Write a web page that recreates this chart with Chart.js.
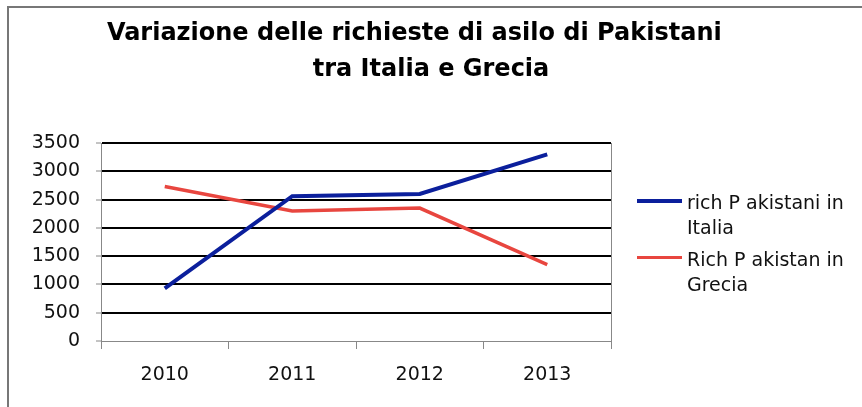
<!DOCTYPE html>
<html>
<head>
<meta charset="utf-8">
<script src="https://cdn.jsdelivr.net/npm/chart.js@4/dist/chart.umd.min.js"></script>
<style>
  html, body { margin: 0; padding: 0; background: #fff; }
  #wrap { position: relative; width: 862px; height: 407px; }
  #frame {
    position: absolute; left: 7px; top: 6px; right: 0; bottom: 0;
    border-top: 2px solid #777; border-left: 2px solid #777;
    pointer-events: none;
  }
  #legend {
    position: absolute; left: 637px; top: 190px;
    font: 19px "DejaVu Sans", Verdana, sans-serif; color: #111;
  }
  .item { display: flex; align-items: flex-start; margin-bottom: 7px; }
  .swatch { width: 45px; margin-right: 5px; }
  .text { width: 170px; line-height: 25px; }
</style>
</head>
<body>
<div id="wrap">
  <canvas id="chart" width="862" height="407"></canvas>
  <div id="frame"></div>
  <div id="legend"></div>
</div>
<script>
/* Line chart: asylum requests of Pakistanis, Italy vs Greece, 2010-2013. */

const years = ['2010', '2011', '2012', '2013'];
const italia = [930, 2560, 2600, 3300];
const grecia = [2730, 2300, 2350, 1350];
const seriesLabels = ['rich P akistani in Italia', 'Rich P akistan in Grecia'];
const titleLines = ['Variazione delle richieste di asilo di Pakistani    ', 'tra Italia e Grecia'];

const BLUE = '#0b1f9c';
const RED = '#e8463f';
const FONT = '"DejaVu Sans", Verdana, sans-serif';

const datasets = [
  { label: seriesLabels[0], data: italia, borderColor: BLUE, backgroundColor: BLUE, borderWidth: 4 },
  { label: seriesLabels[1], data: grecia, borderColor: RED, backgroundColor: RED, borderWidth: 3.5 },
].map((d) => ({ ...d, pointRadius: 0, tension: 0, fill: false }));

new Chart(document.getElementById('chart'), {
  type: 'line',
  data: { labels: years, datasets },
  options: {
    responsive: false,
    animation: false,
    layout: { padding: 0 },
    plugins: {
      legend: { display: false },
      tooltip: { enabled: false },
      title: {
        display: true,
        text: titleLines,
        color: '#000',
        font: { family: FONT, size: 24, weight: 'bold', lineHeight: '36px' },
        padding: { top: 16, bottom: 55 },
      },
    },
    scales: {
      x: {
        offset: true,
        grid: { drawOnChartArea: false, tickLength: 8, tickColor: '#888', offset: true },
        border: { color: '#888', width: 1 },
        ticks: { color: '#111', padding: 15, font: { family: FONT, size: 19 } },
        afterFit(s) { s.height = 66; },
      },
      y: {
        min: 0, max: 3500,
        grid: {
          color: (c) => (c.tick && c.tick.value === 0 ? 'rgba(0,0,0,0)' : '#000'),
          lineWidth: 2, tickColor: '#888', tickWidth: 1, tickLength: 5,
        },
        border: { color: '#888', width: 1 },
        ticks: {
          stepSize: 500, color: '#111', padding: 16, font: { family: FONT, size: 19 },
          callback: (v) => String(v),
        },
        afterFit(s) { s.width = 101; },
      },
      y2: {
        position: 'right',
        min: 0, max: 3500,
        grid: { drawOnChartArea: false, drawTicks: false },
        border: { color: '#888', width: 1 },
        ticks: { display: false },
        afterFit(s) { s.width = 251; },
      },
    },
  },
});

// Legend kept as HTML so the labels can wrap like the original.
const legendEl = document.getElementById('legend');
datasets.forEach((d) => {
  const item = document.createElement('div');
  item.className = 'item';
  const sw = document.createElement('div');
  sw.className = 'swatch';
  sw.style.height = d.borderWidth + 'px';
  sw.style.marginTop = (10.5 - d.borderWidth / 2) + 'px';
  sw.style.background = d.borderColor;
  const tx = document.createElement('div');
  tx.className = 'text';
  tx.textContent = d.label;
  item.append(sw, tx);
  legendEl.appendChild(item);
});
</script>
</body>
</html>
